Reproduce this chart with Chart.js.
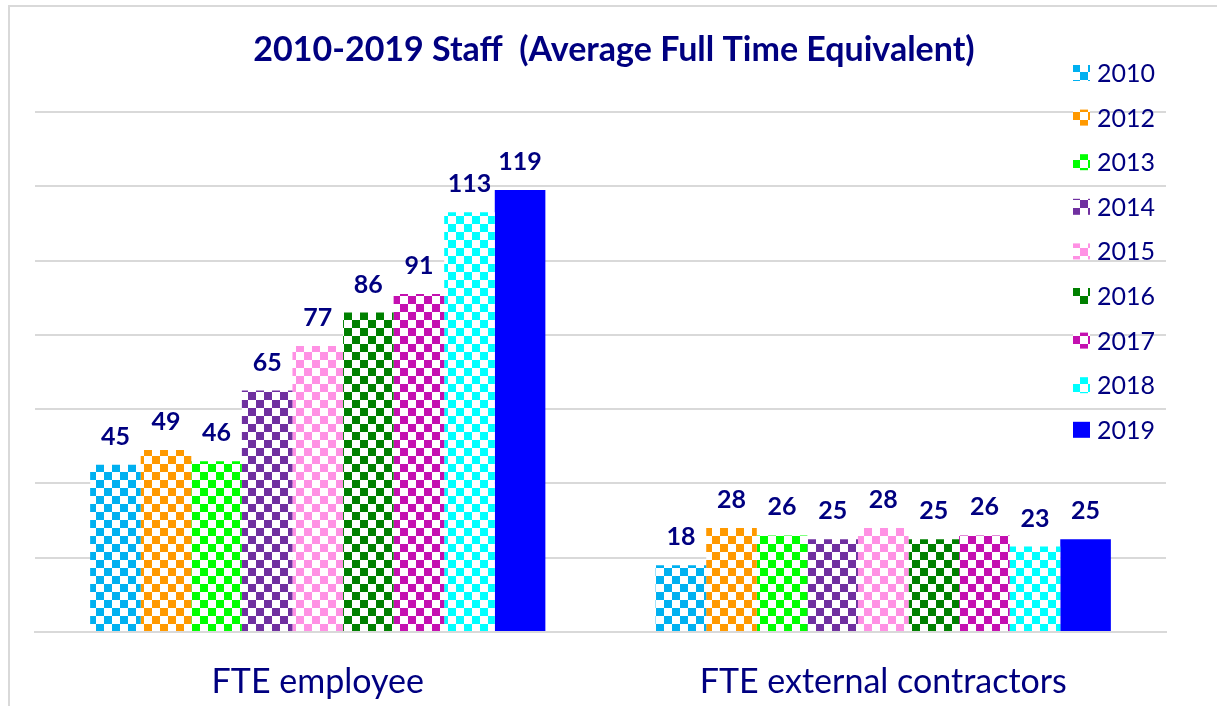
<!DOCTYPE html>
<html lang="en">
<head>
    <meta charset="UTF-8">
    <title>2010-2019 Staff</title>
    <script src="https://cdn.jsdelivr.net/npm/chart.js"></script>
    <style>
        body { margin: 0; background: #fff; }
        #wrap { width: 1217px; height: 706px; position: relative; }
    </style>
</head>
<body>
    <div id="wrap">
        <canvas id="staffChart"></canvas>
    </div>

    <script>
        // data
        const categories = ['FTE employee', 'FTE external contractors'];
        const years = ['2010', '2012', '2013', '2014', '2015', '2016', '2017', '2018', '2019'];
        const fteEmployee = [45, 49, 46, 65, 77, 86, 91, 113, 119];
        const fteContractors = [18, 28, 26, 25, 28, 25, 26, 23, 25];
        const yearColors = ['#00B0F0', '#FF9900', '#00FF00', '#7030A0', '#FF91E4', '#008000', '#C410B0', '#00FFFF', '#0000FF'];

        const navy = '#000080';
        const font = 'Lato, "Liberation Sans", sans-serif';

        // checkerboard fill, like the Excel pattern
        function checker(color) {
            let c = document.createElement('canvas');
            c.width = 16;
            c.height = 16;
            let g = c.getContext('2d');
            g.fillStyle = '#ffffff';
            g.fillRect(0, 0, 16, 16);
            g.fillStyle = color;
            g.fillRect(0, 0, 8, 8);
            g.fillRect(8, 8, 8, 8);
            return g.createPattern(c, 'repeat');
        }

        let datasets = years.map((y, i) => ({
            label: y,
            data: [fteEmployee[i], fteContractors[i]],
            backgroundColor: i === years.length - 1 ? yearColors[i] : checker(yearColors[i]),
            borderWidth: 0
        }));

        // frame, title, legend and value labels
        let decor = {
            id: 'decor',
            beforeDraw(chart) {
                let ctx = chart.ctx;
                ctx.save();
                ctx.strokeStyle = '#d9d9d9';
                ctx.lineWidth = 2;
                ctx.strokeRect(9, 6, 1400, 900);
                ctx.restore();
            },
            afterDatasetsDraw(chart) {
                let ctx = chart.ctx;
                ctx.save();
                ctx.fillStyle = navy;
                ctx.textAlign = 'center';
                ctx.textBaseline = 'middle';
                ctx.font = 'bold 25px ' + font;
                chart.data.datasets.forEach((ds, i) => {
                    chart.getDatasetMeta(i).data.forEach((bar, j) => {
                        ctx.fillText(ds.data[j], bar.x, bar.y - 28);
                    });
                });

                ctx.font = 'bold 34px ' + font;
                ctx.fillText('2010-2019 Staff  (Average Full Time Equivalent)', 614, 50);

                ctx.textAlign = 'left';
                ctx.font = '25px ' + font;
                chart.data.datasets.forEach((ds, i) => {
                    let y = 73 + i * 44.6;
                    ctx.fillStyle = ds.backgroundColor;
                    ctx.fillRect(1073, y - 8, 17, 16);
                    ctx.fillStyle = navy;
                    ctx.fillText(ds.label, 1097, y + 1);
                });
                ctx.restore();
            }
        };

        new Chart(document.getElementById('staffChart'), {
            type: 'bar',
            data: { labels: categories, datasets: datasets },
            options: {
                responsive: true,
                maintainAspectRatio: false,
                animation: false,
                layout: { padding: { left: 35, right: 51, top: 112, bottom: 0 } },
                datasets: { bar: { categoryPercentage: 0.805, barPercentage: 1.0 } },
                plugins: {
                    legend: { display: false },
                    title: { display: false },
                    tooltip: { enabled: false }
                },
                scales: {
                    x: {
                        grid: { display: false },
                        border: { color: '#d9d9d9', width: 2 },
                        ticks: { color: navy, font: { family: font, size: 34 }, padding: 22 },
                        afterFit(scale) { scale.height = 74; }
                    },
                    y: {
                        min: 0,
                        max: 140,
                        ticks: { display: false, stepSize: 20 },
                        border: { display: false },
                        grid: { color: '#d9d9d9', lineWidth: 2, drawTicks: false },
                        afterFit(scale) { scale.width = 0; }
                    }
                }
            },
            plugins: [decor]
        });
    </script>
</body>
</html>
